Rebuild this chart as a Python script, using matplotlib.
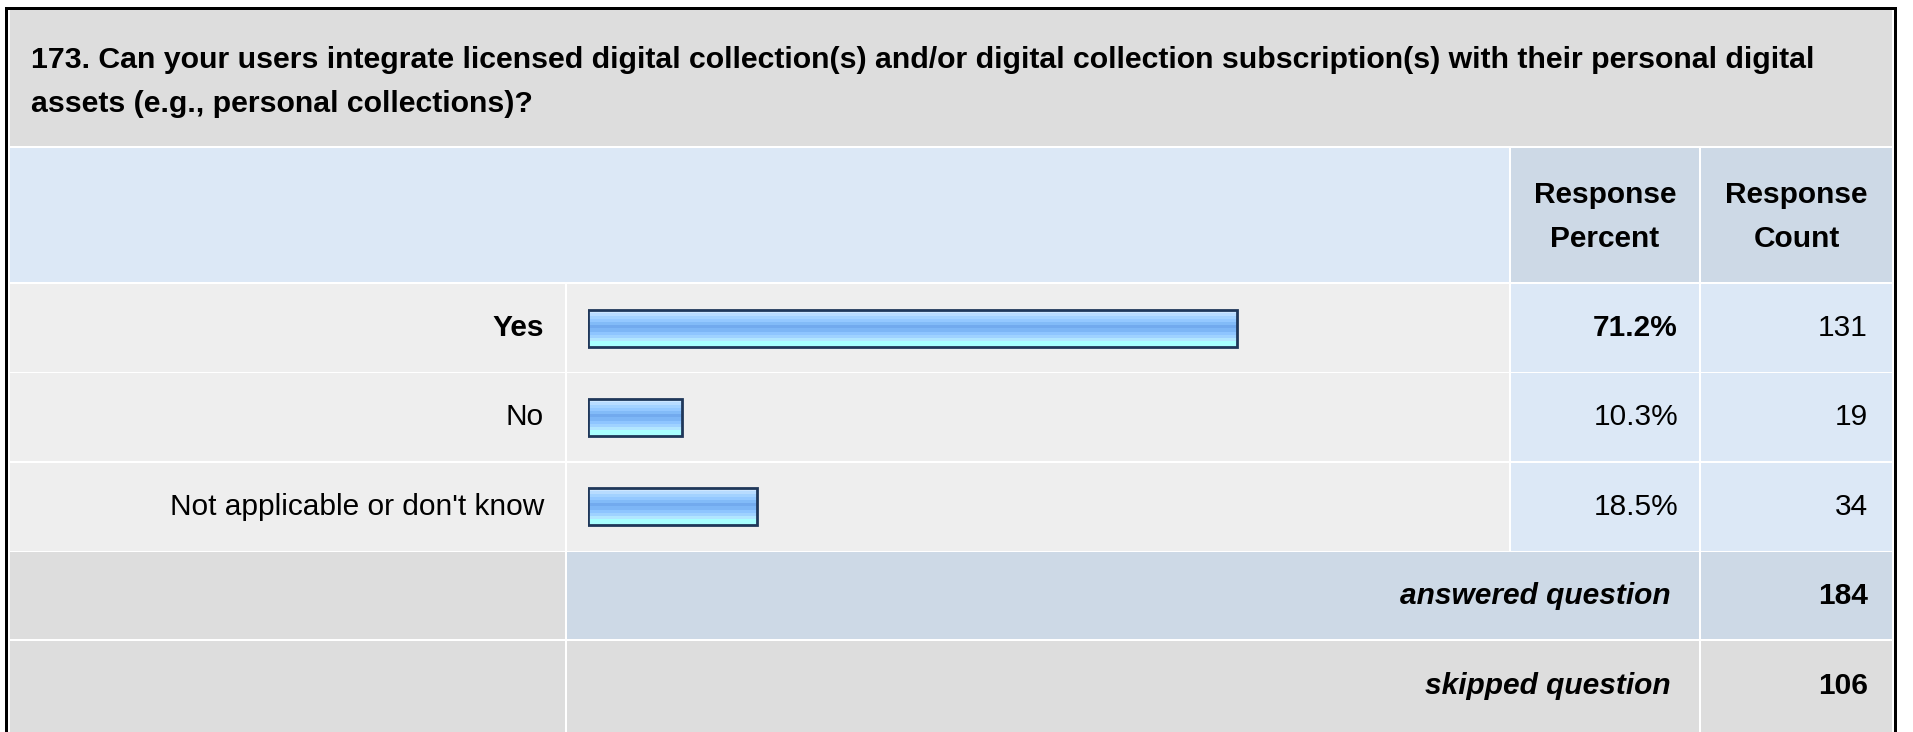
#survey result table with gradient bars
import matplotlib.pyplot as plt
from matplotlib.patches import Rectangle
from matplotlib.colors import to_rgb
import numpy as np

#data
question_lines = ["173. Can your users integrate licensed digital collection(s) and/or digital collection subscription(s) with their personal digital",
                  "assets (e.g., personal collections)?"]
answers = ["Yes", "No", "Not applicable or don't know"]
percents = [71.2, 10.3, 18.5]
counts = [131, 19, 34]
answered = 184
skipped = 106

#figure size in pixels
W, H = 1913, 732
plt.rcParams['font.family'] = ['Liberation Sans', 'DejaVu Sans']
fs = 21.5          #body font size (pt)
fs_title = 21.8    #title font size (pt)

fig = plt.figure(figsize=(W/100, H/100), dpi=100)
bg = fig.add_axes([0, 0, 1, 1])
bg.set_xlim(0, W)
bg.set_ylim(H, 0)
bg.axis('off')

def cell(x0, y0, x1, y1, color):
    bg.add_patch(Rectangle((x0, y0), x1-x0, y1-y0, facecolor=color, edgecolor='none'))

#colours
c_gray = '#dddddd'
c_row = '#eeeeee'
c_blue = '#dce8f6'
c_blue2 = '#cdd9e6'

#outer frame
cell(5, 7, 1897, H+5, 'black')
cell(8, 10, 1894, H+5, 'white')

#column edges
xl0, xl1 = 10, 565      #answer label
xb0, xb1 = 567, 1509    #bar
xp0, xp1 = 1511, 1699   #percent
xc0, xc1 = 1701, 1892   #count

#title
cell(10, 10, xc1, 146, c_gray)
bg.text(31, 60, question_lines[0], fontsize=fs_title, fontweight='bold', va='center', ha='left')
bg.text(31, 104, question_lines[1], fontsize=fs_title, fontweight='bold', va='center', ha='left')

#header
cell(10, 148, xb1, 282, c_blue)
cell(xp0, 148, xp1, 282, c_blue2)
cell(xc0, 148, xc1, 282, c_blue2)
for xc, word in [((xp0+xp1)/2, "Percent"), ((xc0+xc1)/2, "Count")]:
    bg.text(xc, 195, "Response", fontsize=fs, fontweight='bold', ha='center', va='center')
    bg.text(xc, 239, word, fontsize=fs, fontweight='bold', ha='center', va='center')

#answer rows
row_tops = [284, 373, 463]
row_h = 88
top_i = int(np.argmax(percents))
for i, (lab, p, n) in enumerate(zip(answers, percents, counts)):
    y0 = row_tops[i]
    y1 = y0 + row_h
    yc = (y0 + y1) / 2
    cell(xl0, y0, xl1, y1, c_row)
    cell(xb0, y0, xb1, y1, c_row)
    cell(xp0, y0, xp1, y1, c_blue)
    cell(xc0, y0, xc1, y1, c_blue)
    w = 'bold' if i == top_i else 'normal'
    bg.text(544, yc, lab, fontsize=fs, fontweight=w, ha='right', va='center')
    bg.text(1678, yc, '{:.1f}%'.format(p), fontsize=fs, fontweight=w, ha='right', va='center')
    bg.text(1868, yc, str(n), fontsize=fs, ha='right', va='center')

#summary rows
cell(xl0, 552, xl1, 639, c_gray)
cell(xb0, 552, xp1, 639, c_blue2)
cell(xc0, 552, xc1, 639, c_blue2)
bg.text(1671, 596, "answered question", fontsize=fs, fontweight='bold', style='italic', ha='right', va='center')
bg.text(1868, 596, str(answered), fontsize=fs, fontweight='bold', ha='right', va='center')
cell(xl0, 641, xl1, H, c_gray)
cell(xb0, 641, xp1, H, c_gray)
cell(xc0, 641, xc1, H, c_gray)
bg.text(1671, 686, "skipped question", fontsize=fs, fontweight='bold', style='italic', ha='right', va='center')
bg.text(1868, 686, str(skipped), fontsize=fs, fontweight='bold', ha='right', va='center')

#bar axes: 0-100% spans x 588..1499, rows 284..551
bx0, bx1 = 588, 1499
by0, by1 = 284, 551
ax = fig.add_axes([bx0/W, 1-by1/H, (bx1-bx0)/W, (by1-by0)/H])
ax.set_xlim(0, 100)
ax.set_ylim(2.5, -0.5)
ax.axis('off')
ax.patch.set_alpha(0)

#vertical gradient of the bars, top to bottom
stripes = ['#cde6ff', '#b8dcff', '#a3d2ff', '#94c8ff', '#82bbf8', '#72aaee', '#7db6f6',
           '#8ec5ff', '#9fd2ff', '#b2e6ff', '#a8ffff', '#a8ffff']
grad = np.array([[to_rgb(c)] for c in stripes])

bar_h = 0.41
bars = ax.barh(range(len(percents)), percents, height=bar_h, facecolor='none',
               edgecolor='#1f3759', linewidth=2.0, zorder=3)
for b in bars:
    x, y = b.get_x(), b.get_y()
    im = ax.imshow(grad, extent=[x, x+b.get_width(), y+b.get_height(), y],
                   aspect='auto', interpolation='nearest', origin='upper', zorder=2)
    im.set_clip_path(b)

fig.savefig('out.png', dpi=100)
